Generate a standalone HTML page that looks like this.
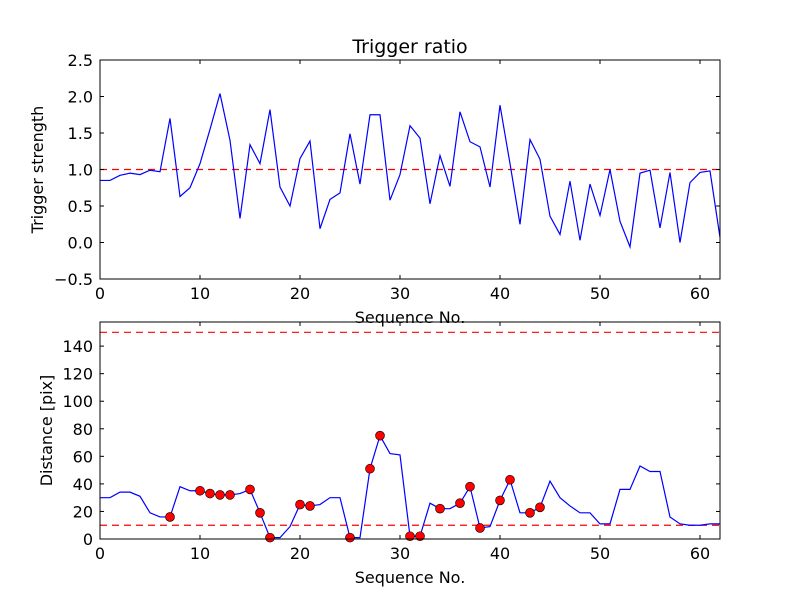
<!DOCTYPE html>
<html><head><meta charset="utf-8"><style>
body{margin:0;background:#fff}
svg{display:block;font-family:"DejaVu Sans","Liberation Sans",sans-serif}
</style></head><body>
<svg id="chart" width="800" height="600" viewBox="0 0 800 600">
<rect width="800" height="600" fill="#fff"/>
</svg>
<script>
const seq = Array.from({length:63},(_, i)=>i);
const strength = [0.85,0.85,0.92,0.95,0.93,0.99,0.97,1.70,0.63,0.75,1.08,1.55,2.04,1.40,0.33,1.34,1.08,1.82,0.76,0.50,1.15,1.39,0.19,0.59,0.68,1.49,0.80,1.75,1.75,0.58,0.93,1.60,1.43,0.53,1.19,0.77,1.79,1.38,1.31,0.76,1.88,1.08,0.25,1.41,1.14,0.36,0.11,0.84,0.03,0.80,0.37,1.00,0.29,-0.06,0.95,0.99,0.20,0.96,0.00,0.82,0.96,0.98,0.07];
const distance = [30,30,34,34,31,19,16,16,38,35,35,33,32,32,33,36,19,1,1,9,25,24,25,30,30,1,1,51,75,62,61,2,2,26,22,22,26,38,8,9,28,43,19,19,23,42,30,24,19,19,11,11,36,36,53,49,49,16,11,10,10,11,11];
const markIdx = [7,10,11,12,13,15,16,17,20,21,25,27,28,31,32,34,36,37,38,40,41,43,44];
const xTicks = [0,10,20,30,40,50,60];
const topTicks = [-0.5,0.0,0.5,1.0,1.5,2.0,2.5];
const botTicks = [0,20,40,60,80,100,120,140];
const topThresh = [1.0];
const botThresh = [10,150];

const NS="http://www.w3.org/2000/svg";
const svg=document.getElementById('chart');
function el(t,a,p){const e=document.createElementNS(NS,t);for(const k in a)e.setAttribute(k,a[k]);(p||svg).appendChild(e);return e;}
const X0=100,X1=720;
const xs=v=>X0+(v-0)/62*(X1-X0);
function panel(name,T,B,ymin,ymax,ticks,fmt,vals,thr,ylabel,title,marks){
  const g=el('g',{});
  
  
  const ys=v=>B-(v-ymin)/(ymax-ymin)*(B-T);
  thr.forEach(t=>{const l=el('line',{x1:X0,x2:X1,y1:ys(t),y2:ys(t),stroke:'#f00','stroke-width':1.2,'stroke-dasharray':'7,5'},g);
    });
  const p=el('polyline',{points:vals.map((v,i)=>xs(seq[i])+','+ys(v)).join(' '),fill:'none',stroke:'#00f','stroke-width':1.2},g);
  
  if(marks){marks.forEach(i=>{const c=el('circle',{cx:xs(seq[i]),cy:ys(vals[i]),r:4.5,fill:'#f00',stroke:'#000','stroke-width':0.6},g);
    });}
  el('rect',{x:X0,y:T,width:X1-X0,height:B-T,fill:'none',stroke:'#000','stroke-width':1},g);
  xTicks.forEach(t=>{const x=xs(t);
    el('line',{x1:x,x2:x,y1:B,y2:B-4,stroke:'#000'},g);el('line',{x1:x,x2:x,y1:T,y2:T+4,stroke:'#000'},g);
    const tx=el('text',{x:x,y:B+20,'text-anchor':'middle','font-size':16},g);tx.textContent=t;
    });
  ticks.forEach(t=>{const y=ys(t);
    el('line',{x1:X0,x2:X0+4,y1:y,y2:y,stroke:'#000'},g);el('line',{x1:X1,x2:X1-4,y1:y,y2:y,stroke:'#000'},g);
    const tx=el('text',{x:X0-7,y:y+6,'text-anchor':'end','font-size':16},g);tx.textContent=fmt(t);
    });
  const xl=el('text',{x:410,y:B+44,'text-anchor':'middle','font-size':16},g);xl.textContent='Sequence No.';
  
  const cy=(T+B)/2;
  const yl=el('text',{x:0,y:0,'text-anchor':'middle','font-size':16,transform:`translate(${ylabel[1]},${cy}) rotate(-90)`},g);yl.textContent=ylabel[0];
  
  if(title){const tt=el('text',{x:410,y:T-7,'text-anchor':'middle','font-size':19},g);tt.textContent=title;
    }
}
panel('top-panel',60,279,-0.5,2.5,topTicks,t=>(t<0?'\u2212':'')+Math.abs(t).toFixed(1),strength,topThresh,['Trigger strength',43],'Trigger ratio',null);
panel('bottom-panel',322,539,0,157.5,botTicks,t=>String(t),distance,botThresh,['Distance [pix]',52],null,markIdx);
</script>
</body></html>
